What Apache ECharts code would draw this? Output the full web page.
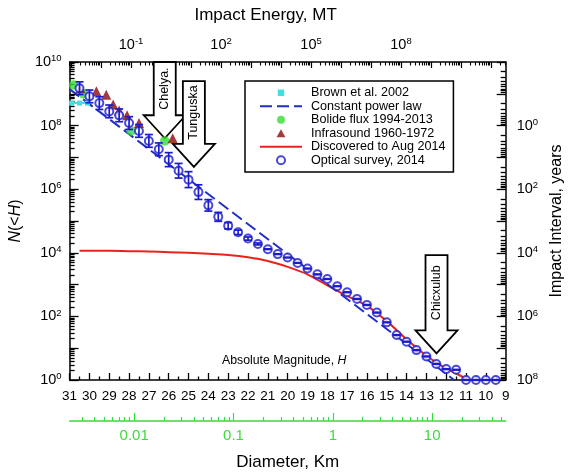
<!DOCTYPE html>
<html><head><meta charset="utf-8">
<script src="https://cdn.jsdelivr.net/npm/echarts@6/dist/echarts.min.js"></script>
<style>html,body{margin:0;padding:0;background:#fff}#c{width:573px;height:476px}</style>
</head><body><div id="c"></div>
<script>
const FONT = "'Liberation Sans', Arial, Helvetica, sans-serif";

// ---- data (H = absolute magnitude, N = cumulative number N(<H)) ----
const opticalH = [30.5,30,29.5,29,28.5,28,27.5,27,26.5,26,25.5,25,24.5,24,23.5,23,22.5,22,21.5,21,20.5,20,19.5,19,18.5,18,17.5,17,16.5,16,15.5,15,14.5,14,13.5,13,12.5,12,11.5,11,10.5,10,9.5];
const opticalN = [1.5e9,8.3e8,5.1e8,2.8e8,2.1e8,1.2e8,6.8e7,3.3e7,1.8e7,8.5e6,3.8e6,2.0e6,8.1e5,3.1e5,1.35e5,7.1e4,4.4e4,2.8e4,1.9e4,1.3e4,9.1e3,7.1e3,4.8e3,3.2e3,2.1e3,1.5e3,890,575,355,230,132,65,26,16,8.7,5.5,3.2,2.2,2.1,1,1,1,1];
const opticalErrDex = [0.2,0.2,0.2,0.2,0.2,0.2,0.2,0.2,0.2,0.22,0.23,0.25,0.23,0.18,0.14,0.1,0.07,0.05,0.03,0.01,0.01,0.01,0.01,0.01,0.01,0.01,0.01,0.01,0.01,0.01,0.01,0.01,0.01,0.01,0.01,0.01,0.01,0.01,0.01,0.01,0.01,0.01,0.01];

const discoveredH = [30.5,30,29,28,27,26,25,24,23,22,21,20,19,18,17,16,15,14,13,12,11.5,10.9];
const discoveredN = [11500,11500,11500,11200,11000,10500,10000,9300,8500,7200,5500,3600,2100,950,440,215,71,19,5.8,2.3,1.6,1];

const powerLawH = [31, 11.6];
const powerLawN = [1.4e9, 1];

const brownH = [30.9, 30.5, 30.1];
const brownN = [5.1e8, 5.1e8, 5.1e8];

const bolideH = [30.8, 30.3, 27.9, 26.2];
const bolideN = [1.9e9, 1.0e9, 6.8e7, 3.3e7];

const infraH = [30.45, 29.65, 29.15, 28.8, 28.5, 28.1, 27.5, 25.8];
const infraN = [1.5e9, 1.2e9, 9.3e8, 4.6e8, 3.0e8, 2.1e8, 1.2e8, 4.0e7];

const arrowLabels = ['Chelya.', 'Tunguska', 'Chicxulub'];
const arrowH = [26.2, 24.73, 12.49];
const arrowTipN = [4.0e7, 5.0e6, 6.9];
const arrowTopN = [1e10, 2.5e9, 8500];

// tick labels
const leftLabelExp = [0, 2, 4, 6, 8, 10];
const rightLabelExp = [0, 2, 4, 6, 8];
const energyLabelExp = [-1, 2, 5, 8];
const diameterLabels = ['0.01', '0.1', '1', '10'];
const diameterLabelExp = [-2, -1, 0, 1];

// ---- helpers ----
const L = Math.log10;
const pair = (xs, ys) => xs.map((x, i) => [x, L(ys[i])]);
function decades(a, b) { const r = []; for (let n = Math.ceil(a); n <= b; n++) r.push(n); return r; }
function minors(a, b) {
  const r = [];
  for (let n = Math.floor(a); n <= b; n++) for (let k = 2; k <= 9; k++) { const v = n + L(k); if (v >= a && v <= b) r.push(v); }
  return r;
}
const sup = v => '{b|10}{s|' + (v < 0 ? '-' + (-v) : v) + '}';
const supRich = {
  b: { fontSize: 14.5, fontFamily: FONT, color: '#000' },
  s: { fontSize: 9.5, fontFamily: FONT, color: '#000', padding: [0, 0, 7, 0] }
};
const black = { color: '#000', width: 1.5 };
const GREEN = '#3ddc3d';

const E_MIN = -3.05, E_MAX = 11.49, D_MIN = -2.65, D_MAX = 1.74;

const option = {
  backgroundColor: '#fff',
  animation: false,
  textStyle: { fontFamily: FONT },
  grid: { left: 69, right: 58, top: 62, bottom: 93, containLabel: false },
  legend: {
    orient: 'vertical', left: 245, top: 81, padding: [5, 8, 5, 14], itemGap: 0,
    itemWidth: 42, itemHeight: 8, borderColor: '#000', borderWidth: 1.5, backgroundColor: '#fff',
    symbolKeepAspect: true,
    textStyle: { fontSize: 12.6, fontFamily: FONT, color: '#000', lineHeight: 13.5, padding: [0, 0, 0, 4] },
    data: [
      { name: 'Brown et al. 2002', lineStyle: { opacity: 0 } },
      { name: 'Constant power law', itemStyle: { opacity: 0 } },
      { name: 'Bolide flux 1994-2013' },
      { name: 'Infrasound 1960-1972', icon: 'path://M5,0L10,9L0,9Z' },
      { name: 'Discovered to Aug 2014', itemStyle: { opacity: 0 } },
      { name: 'Optical survey, 2014' }
    ]
  },
  graphic: [{
    type: 'text', left: 222, top: 355, z: 10,
    style: {
      text: 'Absolute Magnitude, {i|H}', fontSize: 12.3, fontFamily: FONT, fill: '#000',
      rich: { i: { fontStyle: 'italic', fontSize: 12.3, fontFamily: FONT } }
    }
  }],
  xAxis: [
    { // H axis
      type: 'value', min: 9, max: 31, inverse: true, interval: 1, position: 'bottom',
      axisLine: { show: true, onZero: false, lineStyle: black },
      axisTick: { show: true, inside: true, length: 7, lineStyle: { color: '#000', width: 1.3 } },
      minorTick: { show: true, splitNumber: 2, length: 3.5, lineStyle: { color: '#000', width: 1.3 } },
      axisLabel: { color: '#000', fontSize: 13.5, fontFamily: FONT, margin: 9, showMinLabel: true, showMaxLabel: true },
      splitLine: { show: false }, minorSplitLine: { show: false }
    },
    { // energy (top)
      type: 'value', min: E_MIN, max: E_MAX, position: 'top',
      name: 'Impact Energy, MT', nameLocation: 'middle', nameGap: 38,
      nameTextStyle: { fontSize: 17, color: '#000', fontFamily: FONT, padding: [0, 44, 0, 0] },
      axisLine: { show: true, onZero: false, lineStyle: black },
      axisTick: { show: true, inside: true, length: 6, customValues: decades(E_MIN, E_MAX), lineStyle: { color: '#000', width: 1.2 } },
      axisLabel: { customValues: energyLabelExp, formatter: sup, rich: supRich, margin: 9 },
      splitLine: { show: false }
    },
    { // energy minor ticks
      type: 'value', min: E_MIN, max: E_MAX, position: 'top',
      axisLine: { show: false, onZero: false },
      axisTick: { show: true, inside: true, length: 3.5, customValues: minors(E_MIN, E_MAX), lineStyle: { color: '#000', width: 1.1 } },
      axisLabel: { show: false }, splitLine: { show: false }
    },
    { // diameter major
      type: 'value', min: D_MIN, max: D_MAX, position: 'bottom', offset: 41,
      name: 'Diameter, Km', nameLocation: 'middle', nameGap: 33,
      nameTextStyle: { fontSize: 17, color: '#000', fontFamily: FONT },
      axisLine: { show: true, onZero: false, lineStyle: { color: GREEN, width: 1.5 } },
      axisTick: { show: true, inside: true, length: 8, customValues: diameterLabelExp, lineStyle: { color: GREEN, width: 1.2 } },
      axisLabel: {
        customValues: diameterLabelExp, color: GREEN, fontSize: 15, fontFamily: FONT, margin: 7,
        formatter: v => diameterLabels[diameterLabelExp.indexOf(Math.round(v))]
      },
      splitLine: { show: false }
    },
    { // diameter minor ticks
      type: 'value', min: D_MIN, max: D_MAX, position: 'bottom', offset: 41,
      axisLine: { show: false, onZero: false },
      axisTick: { show: true, inside: true, length: 4, customValues: minors(D_MIN, D_MAX), lineStyle: { color: GREEN, width: 1.2 } },
      axisLabel: { show: false }, splitLine: { show: false }
    }
  ],
  yAxis: [
    { // N(<H)
      type: 'value', min: 0, max: 10, position: 'left',
      name: '{i|N}(<{i|H})', nameLocation: 'middle', nameGap: 42, nameRotate: 90,
      nameTextStyle: { fontSize: 16, color: '#000', fontFamily: FONT, rich: { i: { fontStyle: 'italic', fontSize: 16, fontFamily: FONT } } },
      axisLine: { show: true, onZero: false, lineStyle: black },
      axisTick: { show: true, inside: true, length: 9, customValues: decades(0, 10), lineStyle: { color: '#000', width: 1.3 } },
      axisLabel: { customValues: leftLabelExp, formatter: sup, rich: supRich, margin: 8 },
      splitLine: { show: false }
    },
    { // left minor ticks
      type: 'value', min: 0, max: 10, position: 'left',
      axisLine: { show: false, onZero: false },
      axisTick: { show: true, inside: true, length: 5, customValues: minors(0, 10), lineStyle: { color: '#000', width: 1.3 } },
      axisLabel: { show: false }, splitLine: { show: false }
    },
    { // Impact interval (right)
      type: 'value', min: -2, max: 8, inverse: true, position: 'right',
      name: 'Impact Interval, years', nameLocation: 'middle', nameGap: 37, nameRotate: 90,
      nameTextStyle: { fontSize: 16, color: '#000', fontFamily: FONT },
      axisLine: { show: true, onZero: false, lineStyle: black },
      axisTick: { show: true, inside: true, length: 9, customValues: decades(-2, 8), lineStyle: { color: '#000', width: 1.3 } },
      axisLabel: { customValues: rightLabelExp, formatter: sup, rich: supRich, margin: 11 },
      splitLine: { show: false }
    },
    { // right minor ticks
      type: 'value', min: -2, max: 8, inverse: true, position: 'right',
      axisLine: { show: false, onZero: false },
      axisTick: { show: true, inside: true, length: 5, customValues: minors(-2, 8), lineStyle: { color: '#000', width: 1.3 } },
      axisLabel: { show: false }, splitLine: { show: false }
    }
  ],
  series: [
    {
      name: 'Discovered to Aug 2014', type: 'line', data: pair(discoveredH, discoveredN),
      symbol: 'none', smooth: 0.3, lineStyle: { color: '#e8231e', width: 2 }, itemStyle: { color: '#e8231e' }, z: 2
    },
    {
      name: 'Constant power law', type: 'line', data: pair(powerLawH, powerLawN),
      symbol: 'none', lineStyle: { color: '#1f2fc4', width: 2, type: [12, 5] }, itemStyle: { color: '#1f2fc4' }, z: 3
    },
    {
      name: 'Brown et al. 2002', type: 'line', data: pair(brownH, brownN),
      symbol: 'rect', symbolSize: 5, showSymbol: true, lineStyle: { color: '#3fe0e0', width: 2 }, itemStyle: { color: '#3fe0e0' }, z: 3
    },
    {
      name: 'Events', type: 'custom', z: 3.5,
      data: arrowH.map((h, i) => [h, L(arrowTipN[i]), L(arrowTopN[i])]),
      renderItem: (params, api) => {
        const tip = api.coord([api.value(0), api.value(1)]);
        const top = api.coord([api.value(0), api.value(2)]);
        const w = 11, hw = 21, hh = 23;
        const x = tip[0], yb = tip[1] - hh;
        return { type: 'group', children: [
          { type: 'polygon', shape: { points: [[x - w, top[1]], [x + w, top[1]], [x + w, yb], [x + hw, yb], [x, tip[1]], [x - hw, yb], [x - w, yb]] },
            style: { fill: '#fff', stroke: '#000', lineWidth: 1.8 } },
          { type: 'text', x: x, y: (top[1] + yb) / 2, rotation: Math.PI / 2,
            style: { text: arrowLabels[params.dataIndex], align: 'center', verticalAlign: 'middle', fontSize: 12.5, fontFamily: FONT, fill: '#000' } }
        ] };
      }
    },
    {
      name: 'Bolide flux 1994-2013', type: 'scatter', data: pair(bolideH, bolideN),
      symbol: 'circle', symbolSize: 9.5, itemStyle: { color: '#33dd33' }, z: 4
    },
    {
      name: 'Infrasound 1960-1972', type: 'scatter', data: pair(infraH, infraN),
      symbol: 'triangle', symbolSize: 10, symbolKeepAspect: true, itemStyle: { color: '#8b0a0a' }, z: 4
    },
    {
      name: 'Optical survey, 2014', type: 'scatter', data: pair(opticalH, opticalN),
      symbol: 'emptyCircle', symbolSize: 8, itemStyle: { color: '#1b1bcc', borderWidth: 1.9 }, z: 5
    },
    {
      name: 'Optical survey error', type: 'custom', z: 6,
      data: opticalH.map((h, i) => [h, L(opticalN[i]), opticalErrDex[i]]),
      renderItem: (params, api) => {
        const x = api.value(0), y = api.value(1), e = api.value(2);
        const lo = api.coord([x, y - e]), hi = api.coord([x, y + e]);
        const c = 4;
        const st = { stroke: '#1b1bcc', lineWidth: 1.7 };
        return { type: 'group', children: [
          { type: 'line', shape: { x1: lo[0], y1: lo[1], x2: hi[0], y2: hi[1] }, style: st },
          { type: 'line', shape: { x1: lo[0] - c, y1: lo[1], x2: lo[0] + c, y2: lo[1] }, style: st },
          { type: 'line', shape: { x1: hi[0] - c, y1: hi[1], x2: hi[0] + c, y2: hi[1] }, style: st }
        ] };
      }
    }
  ]
};

const chart = echarts.init(document.getElementById('c'), null, { renderer: 'canvas' });
chart.setOption(option);
</script>
</body></html>
